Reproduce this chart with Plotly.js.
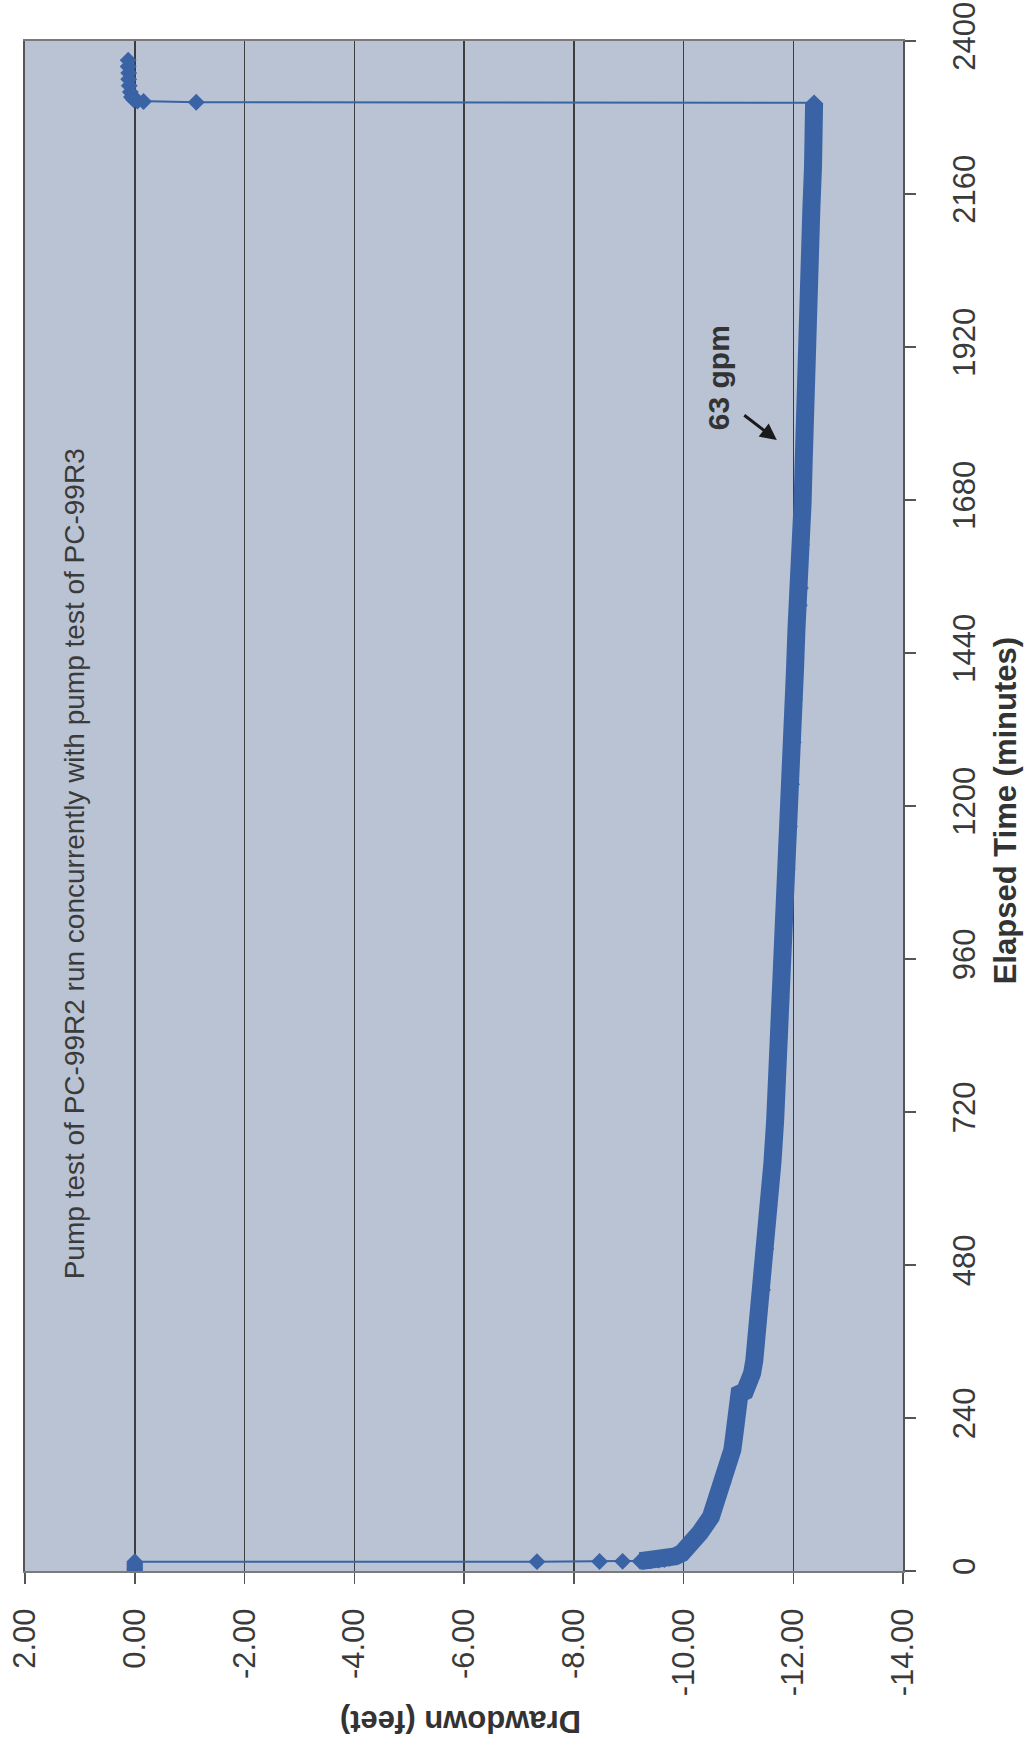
<!DOCTYPE html>
<html>
<head>
<meta charset="utf-8">
<script src="https://cdn.plot.ly/plotly-3.0.1.min.js"></script>
<style>
  html, body { margin: 0; padding: 0; background: #ffffff; }
  #chart { width: 1029px; height: 1741px; }
</style>
</head>
<body>
<div id="chart"></div>
<script>
// ---- Data ----
const elapsedMin = [
  0, 2, 4, 6, 8, 10, 12, 14.5,
  14.7, 14.9, 15.1, 15.4, 16, 17, 18, 20, 23, 28, 35, 44, 60, 85, 110, 138, 170, 190, 216, 248,
  268, 278, 282, 295, 310, 330, 378, 441, 505, 573, 640, 706, 770, 838, 900, 970, 1035, 1102,
  1168, 1234, 1300, 1366, 1410, 1480, 1505, 1515, 1542, 1610, 1675, 1740, 1807, 1870, 1939,
  2005, 2071, 2137, 2203, 2260, 2303,
  2304, 2305, 2306, 2308, 2312, 2320, 2330, 2340, 2350, 2360, 2370
];
const drawdownFt = [
  0, 0, 0, 0, 0, 0, 0, 0,
  -7.33, -8.47, -8.89, -9.21, -9.4, -9.55, -9.65, -9.75, -9.85, -9.97, -10.05, -10.12, -10.3, -10.5, -10.6, -10.72, -10.82, -10.89, -10.93, -10.97,
  -11.0, -11.02, -11.12, -11.2, -11.25, -11.29, -11.35, -11.44, -11.5, -11.56, -11.62, -11.67, -11.71, -11.75, -11.78, -11.8, -11.85, -11.89,
  -11.93, -11.97, -12.0, -12.02, -12.03, -12.06, -12.08, -12.11, -12.13, -12.15, -12.17, -12.19, -12.2, -12.23, -12.26,
  -12.28, -12.31, -12.33, -12.36, -12.37, -12.38,
  -1.12, -0.16, -0.05, 0.02, 0.06, 0.08, 0.1, 0.11, 0.11, 0.12, 0.12
];
const drawdownTickVals = [2, 0, -2, -4, -6, -8, -10, -12, -14];
const drawdownTickText = ['2.00', '0.00', '-2.00', '-4.00', '-6.00', '-8.00', '-10.00', '-12.00', '-14.00'];
const timeTickVals = [0, 240, 480, 720, 960, 1200, 1440, 1680, 1920, 2160, 2400];
const timeTickText = ['0', '240', '480', '720', '960', '1200', '1440', '1680', '1920', '2160', '2400'];
const noteText = 'Pump test of PC-99R2 run concurrently with pump test of PC-99R3';
const rateText = '63 gpm';
const rateArrowPoint = { drawdown: -11.70, time: 1774 };

// ---- Styling ----
const FONT = 'Liberation Sans, Arial, Helvetica, sans-serif';
const BLUE = '#3a63a5';

// pumping-phase points (dense logging appears as a thick band)
const bandX = [], bandY = [];
for (let i = 0; i < drawdownFt.length; i++) {
  if (drawdownFt[i] <= -9.2) { bandX.push(drawdownFt[i]); bandY.push(elapsedMin[i]); }
}

const traces = [
  {
    type: 'scatter', mode: 'lines',
    x: bandX, y: bandY,
    line: { color: BLUE, width: 18, shape: 'linear' },
    hoverinfo: 'skip', showlegend: false
  },
  {
    type: 'scatter', mode: 'lines+markers',
    x: drawdownFt, y: elapsedMin,
    line: { color: BLUE, width: 2 },
    marker: { symbol: 'diamond', size: 13, color: BLUE },
    showlegend: false
  }
];

const layout = {
  width: 1029, height: 1741,
  margin: { l: 25, r: 126, t: 41, b: 170, pad: 0 },
  paper_bgcolor: '#ffffff',
  plot_bgcolor: '#b9c3d3',
  font: { family: FONT, color: '#333333' },
  showlegend: false,
  xaxis: {
    range: [2, -14],
    tickmode: 'array', tickvals: drawdownTickVals, ticktext: drawdownTickText,
    tickangle: -90,
    ticks: 'outside', ticklen: 11, tickwidth: 1.5, tickcolor: '#555555',
    ticklabelstandoff: 12,
    tickfont: { family: FONT, size: 31, color: '#3a3a3a' },
    showgrid: true, gridcolor: '#3d3d3d', gridwidth: 1.5,
    zeroline: false,
    showline: true, linecolor: '#7a7a7a', linewidth: 2, mirror: true,
    fixedrange: true
  },
  yaxis: {
    range: [0, 2400], side: 'right',
    tickmode: 'array', tickvals: timeTickVals, ticktext: timeTickText,
    tickangle: -90,
    ticks: 'outside', ticklen: 11, tickwidth: 1.5, tickcolor: '#555555',
    ticklabelstandoff: 22,
    tickfont: { family: FONT, size: 31, color: '#3a3a3a' },
    showgrid: false, zeroline: false,
    showline: true, linecolor: '#555555', linewidth: 2, mirror: true,
    fixedrange: true
  },
  annotations: [
    {
      text: 'Elapsed Time (minutes)', xref: 'paper', yref: 'paper',
      x: 1.117, y: 0.497, showarrow: false, textangle: -90,
      xanchor: 'center', yanchor: 'middle',
      font: { family: FONT, size: 31, color: '#333333', weight: 'bold' }
    },
    {
      text: 'Drawdown (feet)', xref: 'paper', yref: 'paper',
      x: 0.4966, y: -0.098, showarrow: false, textangle: 180,
      xanchor: 'center', yanchor: 'middle',
      font: { family: FONT, size: 31, color: '#333333', weight: 'bold' }
    },
    {
      text: noteText, xref: 'paper', yref: 'paper',
      x: 0.056, y: 0.462, showarrow: false, textangle: -90,
      xanchor: 'center', yanchor: 'middle',
      font: { family: FONT, size: 28, color: '#3a3a3a' }
    },
    {
      text: rateText, xref: 'paper', yref: 'paper',
      x: 0.79, y: 0.78, showarrow: false, textangle: -90,
      xanchor: 'center', yanchor: 'middle',
      font: { family: FONT, size: 30, color: '#333333', weight: 'bold' }
    },
    {
      text: '', xref: 'x', yref: 'y',
      x: rateArrowPoint.drawdown, y: rateArrowPoint.time,
      ax: -34, ay: -26, showarrow: true,
      arrowhead: 2, arrowsize: 1.1, arrowwidth: 3, arrowcolor: '#1a1a1a'
    }
  ]
};

Plotly.newPlot('chart', traces, layout, { staticPlot: true, displayModeBar: false });
</script>
</body>
</html>
